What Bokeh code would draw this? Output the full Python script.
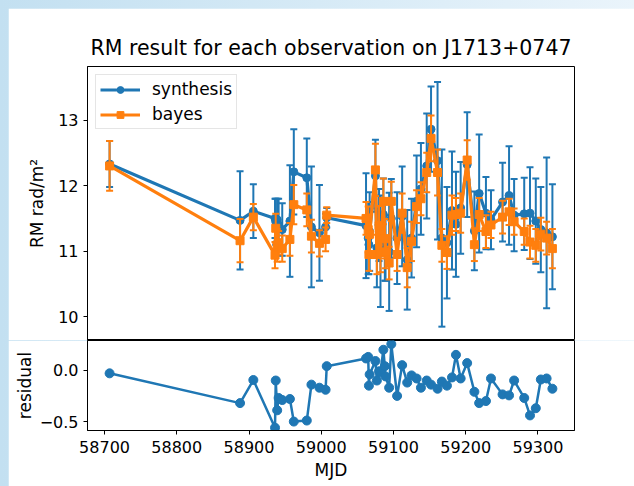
from bokeh.plotting import figure
from bokeh.layouts import column
from bokeh.models import ColumnDataSource, Range1d, FixedTicker, Legend, LegendItem
from bokeh.embed import file_html
from bokeh.resources import INLINE

# ---------------- data ----------------
mjd = [58707, 58887.6, 58906, 58936, 58937, 58939, 58941, 58946, 58956.6, 58962,
       58980, 58986.4, 58997.5, 59006, 59007.6, 59062, 59065, 59066, 59067, 59075,
       59077, 59080, 59082, 59086, 59088, 59089, 59094, 59097, 59105, 59112,
       59119, 59125, 59132, 59138, 59146, 59152, 59161, 59167, 59174, 59181,
       59186.5, 59193, 59202, 59212, 59218.6, 59228, 59235, 59251, 59260, 59267,
       59281, 59289, 59297, 59304, 59312, 59320]

rm_synthesis = [12.33, 11.47, 11.61, 11.50, 11.45, 11.48, 11.40, 11.33, 11.46, 12.21,
                12.12, 11.37, 11.28, 11.37, 11.51, 11.39, 11.20, 11.10, 11.30, 12.15,
                11.05, 11.40, 11.00, 11.56, 11.15, 11.05, 10.99, 11.50, 11.20, 11.53,
                10.87, 11.20, 11.76, 11.95, 12.30, 12.86, 12.38, 11.20, 11.13, 11.62,
                11.41, 11.66, 12.32, 11.31, 11.88, 11.58, 11.48, 11.75, 11.85, 11.55,
                11.57, 11.58, 11.46, 11.33, 11.28, 11.22]

err_synthesis = [0.35, 0.75, 0.41, 0.30, 0.35, 0.32, 0.40, 0.40, 0.85, 0.65,
                 0.60, 0.92, 0.73, 0.20, 0.15, 0.80, 0.55, 0.45, 0.60, 0.55,
                 0.60, 0.55, 0.85, 0.55, 0.60, 0.50, 0.90, 0.60, 0.70, 0.76,
                 0.76, 0.60, 0.70, 0.70, 0.80, 0.65, 1.20, 1.35, 0.85, 0.90,
                 0.80, 0.70, 0.80, 0.60, 0.90, 0.55, 0.45, 0.60, 0.75, 0.55,
                 0.55, 0.70, 0.65, 0.65, 1.15, 0.80]

rm_bayes = [12.30, 11.16, 11.52, 10.94, 11.35, 11.09, 11.13, 11.04, 11.18, 11.71,
            11.63, 11.23, 11.12, 11.18, 11.55, 11.50, 11.33, 10.95, 11.26, 12.24,
            10.95, 11.39, 10.98, 11.76, 11.19, 10.99, 10.82, 11.76, 10.95, 11.58,
            10.75, 11.15, 11.68, 11.80, 12.20, 12.72, 12.20, 11.09, 10.98, 11.55,
            11.56, 11.58, 12.39, 11.10, 11.56, 11.30, 11.40, 11.52, 11.60, 11.45,
            11.30, 11.14, 11.09, 11.26, 11.20, 11.04]

err_bayes = [0.38, 0.33, 0.20, 0.20, 0.22, 0.25, 0.18, 0.20, 0.25, 0.30,
             0.25, 0.25, 0.20, 0.18, 0.12, 0.25, 0.35, 0.25, 0.30, 0.40,
             0.30, 0.30, 0.30, 0.35, 0.30, 0.25, 0.25, 0.30, 0.25, 0.30,
             0.30, 0.30, 0.25, 0.25, 0.30, 0.35, 0.35, 0.25, 0.25, 0.30,
             0.25, 0.30, 0.30, 0.25, 0.25, 0.25, 0.20, 0.25, 0.20, 0.20,
             0.20, 0.25, 0.25, 0.25, 0.25, 0.30]

residual = [-0.03, -0.32, -0.095, -0.56, -0.10, -0.39, -0.27, -0.29, -0.28, -0.50,
            -0.49, -0.14, -0.17, -0.19, 0.04, 0.115, 0.13, -0.15, -0.04, 0.09,
            -0.10, -0.01, -0.02, 0.20, 0.04, -0.06, -0.17, 0.255, -0.25, 0.05,
            -0.12, -0.05, -0.08, -0.17, -0.10, -0.14, -0.18, -0.11, -0.15, -0.07,
            0.15, -0.08, 0.07, -0.21, -0.32, -0.30, -0.08, -0.235, -0.245, -0.10,
            -0.27, -0.44, -0.37, -0.09, -0.08, -0.18]

x_ticks = [58700, 58800, 58900, 59000, 59100, 59200, 59300]
rm_ticks = [10, 11, 12, 13]
res_ticks = [-0.5, 0.0]

title_text = "RM result for each observation on J1713+0747"

# ---------------- styling ----------------
BLUE = "#1f77b4"
ORANGE = "#ff7f0e"
FONT = "DejaVu Sans"
TICK_FS = "16px"
LABEL_FS = "17px"

src_s = ColumnDataSource(dict(
    x=mjd, y=rm_synthesis,
    lo=[v - e for v, e in zip(rm_synthesis, err_synthesis)],
    hi=[v + e for v, e in zip(rm_synthesis, err_synthesis)]))
src_b = ColumnDataSource(dict(
    x=mjd, y=rm_bayes,
    lo=[v - e for v, e in zip(rm_bayes, err_bayes)],
    hi=[v + e for v, e in zip(rm_bayes, err_bayes)]))
src_r = ColumnDataSource(dict(x=mjd, y=residual))

x_range = Range1d(58676.4, 59350.6)


def style_axes(p):
    p.outline_line_color = "black"
    p.outline_line_width = 1
    p.outline_line_alpha = 1
    for ax in p.axis:
        ax.axis_line_color = "black"
        ax.major_tick_line_color = "black"
        ax.major_tick_out = 4
        ax.major_tick_in = 0
        ax.minor_tick_out = 0
        ax.minor_tick_in = 0
        ax.major_label_text_font = FONT
        ax.major_label_text_font_size = TICK_FS
        ax.major_label_text_color = "black"
        ax.major_label_standoff = 5
        ax.axis_label_text_font = FONT
        ax.axis_label_text_font_size = LABEL_FS
        ax.axis_label_text_font_style = "normal"
        ax.axis_label_text_color = "black"
    p.xgrid.visible = False
    p.ygrid.visible = False


# ---------------- top panel ----------------
p1 = figure(width=626, height=332, output_backend="svg", toolbar_location=None,
            x_range=x_range, y_range=Range1d(9.639, 13.816),
            x_axis_location=None,
            min_border_left=79, min_border_right=60, min_border_top=58, min_border_bottom=0,
            background_fill_color="white", border_fill_color="white")
p1.margin = (8, 0, 0, 8)
p1.title.text = title_text
p1.title.text_font = FONT
p1.title.text_font_size = "20.5px"
p1.title.text_font_style = "normal"
p1.title.text_color = "black"
p1.title.align = "center"
p1.title.standoff = 14

# synthesis error bars, line, markers
p1.segment(x0="x", y0="lo", x1="x", y1="hi", source=src_s, line_color=BLUE, line_width=2)
p1.scatter(x="x", y="hi", source=src_s, marker="dash", size=7, line_color=BLUE, line_width=2)
p1.scatter(x="x", y="lo", source=src_s, marker="dash", size=7, line_color=BLUE, line_width=2)
line_s = p1.line(x="x", y="y", source=src_s, line_color=BLUE, line_width=3.2)
scat_s = p1.scatter(x="x", y="y", source=src_s, marker="circle", size=8,
                    fill_color=BLUE, line_color=BLUE)

# bayes error bars, line, markers
p1.segment(x0="x", y0="lo", x1="x", y1="hi", source=src_b, line_color=ORANGE, line_width=2)
p1.scatter(x="x", y="hi", source=src_b, marker="dash", size=7, line_color=ORANGE, line_width=2)
p1.scatter(x="x", y="lo", source=src_b, marker="dash", size=7, line_color=ORANGE, line_width=2)
line_b = p1.line(x="x", y="y", source=src_b, line_color=ORANGE, line_width=3.2)
scat_b = p1.scatter(x="x", y="y", source=src_b, marker="square", size=8,
                    fill_color=ORANGE, line_color=ORANGE)

p1.yaxis.ticker = FixedTicker(ticks=rm_ticks)
p1.yaxis.axis_label = "RM rad/m²"
style_axes(p1)
p1.yaxis.axis_label_standoff = 8

legend = Legend(items=[LegendItem(label="synthesis", renderers=[line_s, scat_s]),
                       LegendItem(label="bayes", renderers=[line_b, scat_b])],
                location="top_left")
legend.margin = 8
legend.padding = 4
legend.spacing = 5
legend.glyph_width = 40
legend.glyph_height = 17
legend.label_height = 17
legend.label_standoff = 12
legend.label_text_font = FONT
legend.label_text_font_size = "17px"
legend.label_text_color = "black"
legend.border_line_color = "#cccccc"
legend.border_line_width = 1
legend.background_fill_alpha = 0.8
p1.add_layout(legend)

# ---------------- bottom panel ----------------
p2 = figure(width=626, height=146, output_backend="svg", toolbar_location=None,
            x_range=x_range, y_range=Range1d(-0.587, 0.29),
            min_border_left=79, min_border_right=60, min_border_top=0, min_border_bottom=56,
            background_fill_color="white", border_fill_color="white")
p2.margin = (0, 0, 0, 8)
p2.line(x="x", y="y", source=src_r, line_color=BLUE, line_width=2.5)
p2.scatter(x="x", y="y", source=src_r, marker="circle", size=9, fill_color=BLUE, line_color=BLUE)
p2.xaxis.ticker = FixedTicker(ticks=x_ticks)
p2.yaxis.ticker = FixedTicker(ticks=res_ticks)
p2.yaxis.major_label_overrides = {-0.5: "\u22120.5", 0.0: "0.0"}
p2.xaxis.axis_label = "MJD"
p2.yaxis.axis_label = "residual"
style_axes(p2)
p2.xaxis.major_label_standoff = 6
p2.xaxis.axis_label_standoff = 4
p2.yaxis.axis_label_standoff = 2

layout = column(p1, p2, styles={
    "background": "linear-gradient(90deg, #c3e0f1 0%, #d6eaf6 50%, #eaf4fb 100%)"})

open("out.html", "w").write(file_html(layout, INLINE))
